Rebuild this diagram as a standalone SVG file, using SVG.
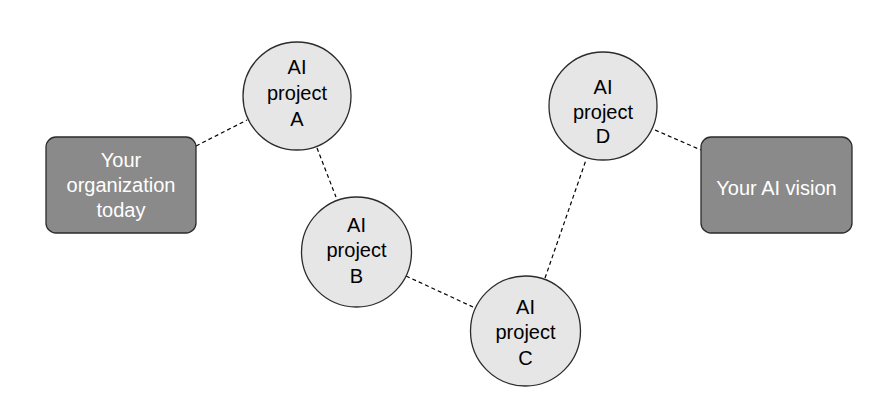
<svg xmlns="http://www.w3.org/2000/svg" width="886" height="402" viewBox="0 0 886 402">
<style>
.box{fill:#8a8a8a;stroke:#2b2b2b;stroke-width:1.3}
.circ{fill:#e6e6e6;stroke:#2b2b2b;stroke-width:1.3}
.t{font-family:"Liberation Sans",Arial,sans-serif;font-size:20px;text-anchor:middle;fill:#000}
.w{fill:#fff}
.c{stroke:#000;stroke-width:1.2;stroke-dasharray:4 3;fill:none}
</style>
<rect width="886" height="402" fill="#fff"/>
<g id="connectors">
<line class="c" x1="196" y1="146" x2="247" y2="120"/>
<line class="c" x1="317" y1="148" x2="336" y2="197"/>
<line class="c" x1="406" y1="276" x2="473" y2="307"/>
<line class="c" x1="545" y1="278" x2="586" y2="160"/>
<line class="c" x1="655" y1="130" x2="701" y2="150"/>
</g>
<g id="org">
<rect class="box" x="46" y="137" width="150" height="96" rx="10"/>
<text class="t w" x="121" y="167">Your</text>
<text class="t w" x="121" y="192">organization</text>
<text class="t w" x="121" y="217">today</text>
</g>
<g id="projA">
<circle class="circ" cx="297" cy="96" r="54"/>
<text class="t" x="297" y="74">AI</text>
<text class="t" x="297" y="100">project</text>
<text class="t" x="297" y="126">A</text>
</g>
<g id="projB">
<circle class="circ" cx="356.5" cy="252" r="55"/>
<text class="t" x="356.5" y="232">AI</text>
<text class="t" x="356.5" y="257">project</text>
<text class="t" x="356.5" y="283">B</text>
</g>
<g id="projC">
<circle class="circ" cx="525.5" cy="331" r="55"/>
<text class="t" x="525.5" y="314">AI</text>
<text class="t" x="525.5" y="339">project</text>
<text class="t" x="525.5" y="365">C</text>
</g>
<g id="projD">
<circle class="circ" cx="603" cy="106" r="54"/>
<text class="t" x="603" y="94">AI</text>
<text class="t" x="603" y="119">project</text>
<text class="t" x="603" y="143">D</text>
</g>
<g id="vision">
<rect class="box" x="701" y="137" width="151" height="96" rx="10"/>
<text class="t w" x="776.5" y="195">Your AI vision</text>
</g>
</svg>
